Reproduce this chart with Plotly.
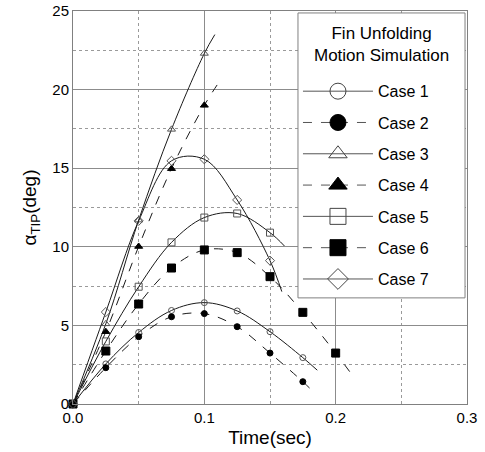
import plotly.graph_objects as go

# ---- data ----
t_marks = [0.0, 0.025, 0.05, 0.075, 0.1, 0.125, 0.15, 0.175, 0.2]

case1_y = [0.0, 2.55, 4.55, 5.95, 6.45, 5.92, 4.6, 2.95]
case2_y = [0.0, 2.31, 4.28, 5.55, 5.75, 4.92, 3.24, 1.42]
case3_y = [0.0, 5.1, 11.7, 17.47, 22.3]
case4_y = [0.0, 4.6, 10.02, 14.97, 19.0]
case5_y = [0.0, 3.98, 7.46, 10.28, 11.86, 12.12, 10.9]
case6_y = [0.0, 3.37, 6.36, 8.65, 9.8, 9.63, 8.1, 5.83, 3.24]
case7_y = [0.0, 5.85, 11.65, 15.47, 15.57, 12.98, 9.12]

# end points of the fitted curves (time, value)
case1_end = (0.186, 2.15)
case2_end = (0.183, 0.78)
case3_end = (0.108, 23.5)
case4_end = (0.113, 20.7)
case5_end = (0.161, 10.05)
case6_end = (0.2135, 1.74)
case7_end = (0.159, 7.15)

names = ["Case 1", "Case 2", "Case 3", "Case 4", "Case 5", "Case 6", "Case 7"]
values = [case1_y, case2_y, case3_y, case4_y, case5_y, case6_y, case7_y]
ends = [case1_end, case2_end, case3_end, case4_end, case5_end, case6_end, case7_end]
symbols = ["circle-open", "circle", "triangle-up-open", "triangle-up",
           "square-open", "square", "diamond-open"]
dashes = ["solid", "dash", "solid", "dash", "solid", "dash", "solid"]
plot_sizes = [6, 6, 7, 7, 7, 8, 7]
legend_title = "Fin Unfolding<br>Motion Simulation"

LINE_C = "#1a1a1a"
OPEN_C = "#555555"

fig = go.Figure()

for i, (nm, ys, end) in enumerate(zip(names, values, ends)):
    xs = t_marks[:len(ys)]
    is_open = symbols[i].endswith("open")
    mcolor = OPEN_C if is_open else "black"
    # fitted curve
    fig.add_trace(go.Scatter(
        x=xs + [end[0]], y=ys + [end[1]], mode="lines",
        line=dict(color=LINE_C, width=1, dash=dashes[i], shape="spline", smoothing=1.0),
        showlegend=False, hoverinfo="skip"))
    # data markers
    fig.add_trace(go.Scatter(
        x=xs, y=ys, mode="markers",
        marker=dict(symbol=symbols[i], size=plot_sizes[i], color=mcolor,
                    line=dict(color=mcolor, width=1)),
        showlegend=False, cliponaxis=False))

# legend-only entries with large symbols
for i, nm in enumerate(names):
    is_open = symbols[i].endswith("open")
    mcolor = "#444444" if is_open else "black"
    fig.add_trace(go.Scatter(
        x=[None], y=[None], mode="lines+markers", name=nm, legendgroup=nm,
        line=dict(color="#555555", width=1, dash=dashes[i]),
        marker=dict(symbol=symbols[i], size=16, color=mcolor,
                    line=dict(color=mcolor, width=1))))

# legend frame and title
BOX = dict(x0=0.571, x1=0.995, y0=0.270, y1=0.995)
fig.add_shape(type="rect", xref="paper", yref="paper", layer="above",
              line=dict(color="#808080", width=1), fillcolor="white", **BOX)
fig.add_annotation(xref="paper", yref="paper", x=(BOX["x0"] + BOX["x1"]) / 2,
                   y=0.9135, xanchor="center", yanchor="middle", showarrow=False,
                   text=legend_title, align="center",
                   font=dict(size=17, color="black"))

GRID = "#8c8c8c"
fig.update_layout(
    width=485, height=452,
    margin=dict(l=73, r=18, t=11, b=48, autoexpand=False),
    paper_bgcolor="white", plot_bgcolor="white",
    font=dict(family="Liberation Sans, Arial, sans-serif", color="black", size=15),
    xaxis=dict(range=[0, 0.3], dtick=0.1, tick0=0, tickformat=".1f",
               automargin=False,
               showgrid=True, gridcolor=GRID, gridwidth=1,
               minor=dict(dtick=0.05, showgrid=True, gridcolor="#9a9a9a",
                          griddash="dot", gridwidth=1),
               showline=True, linecolor="#808080", linewidth=1, mirror=True,
               zeroline=False, ticks="", tickfont=dict(size=15),
               title=dict(text="Time(sec)", font=dict(size=19), standoff=5)),
    yaxis=dict(range=[0, 25], dtick=5, tick0=0,
               automargin=False,
               showgrid=True, gridcolor=GRID, gridwidth=1,
               minor=dict(dtick=2.5, showgrid=True, gridcolor="#9a9a9a",
                          griddash="dot", gridwidth=1),
               showline=True, linecolor="#808080", linewidth=1, mirror=True,
               zeroline=False, ticks="", tickfont=dict(size=15),
               title=dict(text="α<sub>TIP</sub>(deg)", font=dict(size=19), standoff=10)),
    legend=dict(x=0.571, y=0.839, xanchor="left", yanchor="top",
                bgcolor="rgba(0,0,0,0)", borderwidth=0,
                font=dict(size=16), tracegroupgap=7.5, itemwidth=70),
)

fig.write_html("out.html")
